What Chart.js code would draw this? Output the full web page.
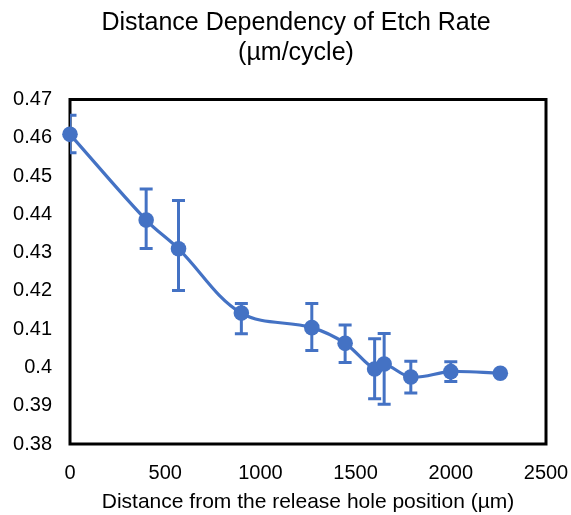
<!DOCTYPE html>
<html>
<head>
<meta charset="utf-8">
<script src="https://cdn.jsdelivr.net/npm/chart.js@4"></script>
<style>
  html, body { margin: 0; padding: 0; background: #fff; }
  #wrap { width: 571px; height: 515px; }
</style>
</head>
<body>
<div id="wrap"><canvas id="etch"></canvas></div>
<script>
// distance from release hole (um) and etch rate (um/cycle)
const distances = [0, 400, 570, 900, 1270, 1445, 1600, 1650, 1790, 2000, 2260];
const etchRates = [0.4609, 0.4385, 0.4310, 0.4142, 0.4104, 0.4063, 0.3996, 0.4009, 0.3975, 0.3989, 0.3985];
const errPlus = [0.0050, 0.0081, 0.0126, 0.0025, 0.0063, 0.0048, 0.0079, 0.0080, 0.0041, 0.0026, 0];
const errMinus = [0.0048, 0.0074, 0.0109, 0.0054, 0.0060, 0.0050, 0.0078, 0.0105, 0.0042, 0.0026, 0];

const BLUE = '#4472C4';
const FONT = "'Liberation Sans', Arial, sans-serif";

// black frame round the plot area
const plotFrame = {
    id: 'plotFrame',
    afterLayout(chart) {
        // title sits a bit right of the canvas centre in the original
        const t = chart.titleBlock;
        if (t) {
            t.left += 23;
            t.right += 23;
        }
    },
    beforeDatasetsDraw(chart) {
        const { ctx, chartArea: a } = chart;
        ctx.save();
        ctx.strokeStyle = '#000';
        ctx.lineWidth = 3;
        ctx.strokeRect(a.left, a.top, a.right - a.left, a.bottom - a.top);
        ctx.restore();
    },
};

// vertical error bars, drawn under the markers
const errorBars = {
    id: 'errorBars',
    beforeDatasetsDraw(chart) {
        const { ctx, chartArea: a, scales } = chart;
        const xs = scales.x;
        const ys = scales.y;
        ctx.save();
        ctx.beginPath();
        ctx.rect(a.left, a.top, a.right - a.left, a.bottom - a.top);
        ctx.clip();
        ctx.strokeStyle = BLUE;
        ctx.lineWidth = 3;
        distances.forEach((d, i) => {
            if (!errPlus[i] && !errMinus[i]) return;
            const px = xs.getPixelForValue(d);
            const top = ys.getPixelForValue(etchRates[i] + errPlus[i]);
            const bot = ys.getPixelForValue(etchRates[i] - errMinus[i]);
            ctx.beginPath();
            ctx.moveTo(px, top);
            ctx.lineTo(px, bot);
            ctx.moveTo(px - 6.5, top);
            ctx.lineTo(px + 6.5, top);
            ctx.moveTo(px - 6.5, bot);
            ctx.lineTo(px + 6.5, bot);
            ctx.stroke();
        });
        ctx.restore();
    },
};

const ctx = document.getElementById('etch').getContext('2d');
new Chart(ctx, {
    type: 'scatter',
    data: {
        datasets: [{
            label: 'Etch rate',
            data: distances.map((d, i) => ({ x: d, y: etchRates[i] })),
            showLine: true,
            borderColor: BLUE,
            backgroundColor: BLUE,
            borderWidth: 3.2,
            pointRadius: 7.8,
            pointBorderWidth: 0,
            tension: 0.35,
            clip: false,
        }],
    },
    options: {
        responsive: true,
        maintainAspectRatio: false,
        animation: false,
        layout: {
            padding: { left: 0, right: 25, top: 0, bottom: 0 },
        },
        plugins: {
            legend: { display: false },
            tooltip: { enabled: false },
            title: {
                display: true,
                text: ['Distance Dependency of Etch Rate', '(µm/cycle)'],
                color: '#000',
                font: { family: FONT, size: 25, weight: 'normal', lineHeight: 1.2 },
                padding: { top: 8, bottom: 31.5 },
            },
        },
        scales: {
            x: {
                type: 'linear',
                min: 0,
                max: 2500,
                grid: { display: false, drawTicks: false },
                border: { display: false },
                ticks: {
                    stepSize: 500,
                    color: '#000',
                    padding: 17,
                    maxRotation: 0,
                    font: { family: FONT, size: 20 },
                    callback(value) {
                        return String(value);
                    },
                },
                title: {
                    display: true,
                    text: 'Distance from the release hole position (µm)',
                    color: '#000',
                    font: { family: FONT, size: 21 },
                    padding: { top: 6, bottom: 0 },
                },
                afterFit(scale) {
                    scale.height = 71;
                    scale.paddingRight = 25;
                    scale.paddingLeft = 0;
                },
            },
            y: {
                min: 0.38,
                max: 0.47,
                grid: { display: false, drawTicks: false },
                border: { display: false },
                ticks: {
                    stepSize: 0.01,
                    color: '#000',
                    padding: 18,
                    font: { family: FONT, size: 20 },
                    callback(value) {
                        return String(parseFloat(value.toFixed(2)));
                    },
                },
                afterFit(scale) {
                    scale.width = 70;
                },
            },
        },
    },
    plugins: [plotFrame, errorBars],
});
</script>
</body>
</html>
